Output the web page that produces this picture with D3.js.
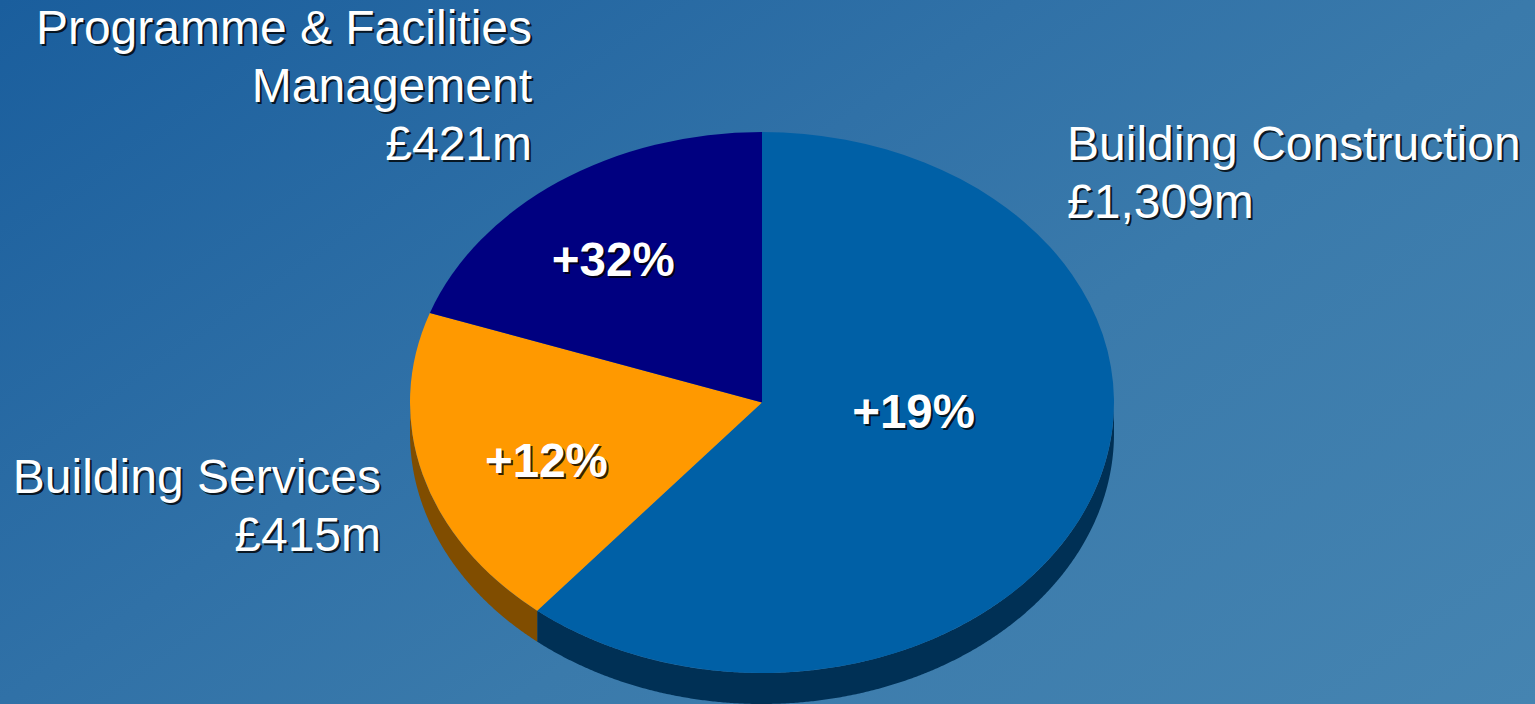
<!doctype html>
<html>
<head>
  <title>Construction output</title>
  <script src="https://d3js.org/d3.v7.min.js"></script>
  <style>
  html, body {
    margin: 0;
    padding: 0;
    overflow: hidden;
  }

  svg {
    display: block;
    font-family: "Liberation Sans", Arial, sans-serif;
  }

  text {
    fill: #fff;
    text-shadow: 2px 2px 0 rgba(0, 0, 0, .8);
  }

  .name {
    font-size: 48px;
  }

  .change {
    font-size: 47.5px;
    font-weight: bold;
  }
  </style>
</head>
<body>
  <script>
    // chart values
    var categories = ["Building Construction", "Building Services", "Programme & Facilities Management"];
    var spend = [1309, 415, 421];
    var changes = ["+19%", "+12%", "+32%"];
    var nameLines = [
      ["Building Construction"],
      ["Building Services"],
      ["Programme & Facilities", "Management"]
    ];

    // styling and layout, same order as categories
    var topColours = ["#0060a6", "#ff9900", "#000080"];
    var sideColours = ["#003055", "#804d00", "#000040"];
    var nameAnchors = [
      {x: 1067, y: 160, anchor: "start"},
      {x: 381, y: 493, anchor: "end"},
      {x: 532, y: 44, anchor: "end"}
    ];
    var changeOffsets = [[-14, -20], [-46, 38], [-47, -16]];

    var width = 1535,
        height = 704,
        cx = 762,
        cy = 402.5,
        rx = 352,
        ry = 270.5,
        depth = 31,
        lineHeight = 58;

    var svg = d3.select("body").append("svg")
        .attr("width", width)
        .attr("height", height);

    // top right ends up a bit lighter than bottom left
    var grad = svg.append("defs").append("linearGradient")
        .attr("id", "bg")
        .attr("gradientUnits", "userSpaceOnUse")
        .attr("x1", 0)
        .attr("y1", 0)
        .attr("x2", 822)
        .attr("y2", 1194);
    grad.append("stop").attr("offset", 0).attr("stop-color", "#1a5e9d");
    grad.append("stop").attr("offset", .4).attr("stop-color", "#3071a7");
    grad.append("stop").attr("offset", .6).attr("stop-color", "#3a7aab");
    grad.append("stop").attr("offset", 1).attr("stop-color", "#4584b1");

    svg.append("rect")
        .attr("width", width)
        .attr("height", height)
        .attr("fill", "url(#bg)");

    var pie = d3.pie().sort(null);
    var slices = pie(spend);

    var arc = d3.arc()
        .innerRadius(0)
        .outerRadius(rx);

    // the wall only shows on the front half of the ellipse
    var wall = d3.area()
        .x(function(a){return cx + rx * Math.sin(a);})
        .y0(function(a){return cy - ry * Math.cos(a);})
        .y1(function(a){return cy - ry * Math.cos(a) + depth;});

    svg.append("g").selectAll("path")
        .data(slices)
      .enter().append("path")
        .attr("fill", function(d, i){return sideColours[i];})
        .attr("d", function(d){
          var a0 = Math.max(d.startAngle, Math.PI / 2),
              a1 = Math.min(d.endAngle, Math.PI * 3 / 2);
          if(a1 <= a0) return null;
          return wall(d3.range(a0, a1, 0.005).concat([a1]));
        });

    svg.append("g")
        .attr("transform", "translate(" + cx + "," + cy + ") scale(1," + ry / rx + ")")
      .selectAll("path")
        .data(slices)
      .enter().append("path")
        .attr("fill", function(d, i){return topColours[i];})
        .attr("d", arc);

    svg.append("g").selectAll("text")
        .data(slices)
      .enter().append("text")
        .attr("class", "change")
        .attr("text-anchor", "middle")
        .attr("x", function(d, i){return cx + arc.centroid(d)[0] + changeOffsets[i][0];})
        .attr("y", function(d, i){return cy + arc.centroid(d)[1] * ry / rx + changeOffsets[i][1];})
        .text(function(d, i){return changes[i];});

    // names with the spend figure as the last line
    var names = svg.append("g").selectAll("text")
        .data(categories)
      .enter().append("text")
        .attr("class", "name")
        .attr("text-anchor", function(d, i){return nameAnchors[i].anchor;});

    names.selectAll("tspan")
        .data(function(d, i){
          return nameLines[i].concat(["£" + d3.format(",")(spend[i]) + "m"]).map(function(t, j){
            return {text: t, x: nameAnchors[i].x, y: nameAnchors[i].y + j * lineHeight};
          });
        })
      .enter().append("tspan")
        .attr("x", function(d){return d.x;})
        .attr("y", function(d){return d.y;})
        .text(function(d){return d.text;});
  </script>
</body>
</html>
